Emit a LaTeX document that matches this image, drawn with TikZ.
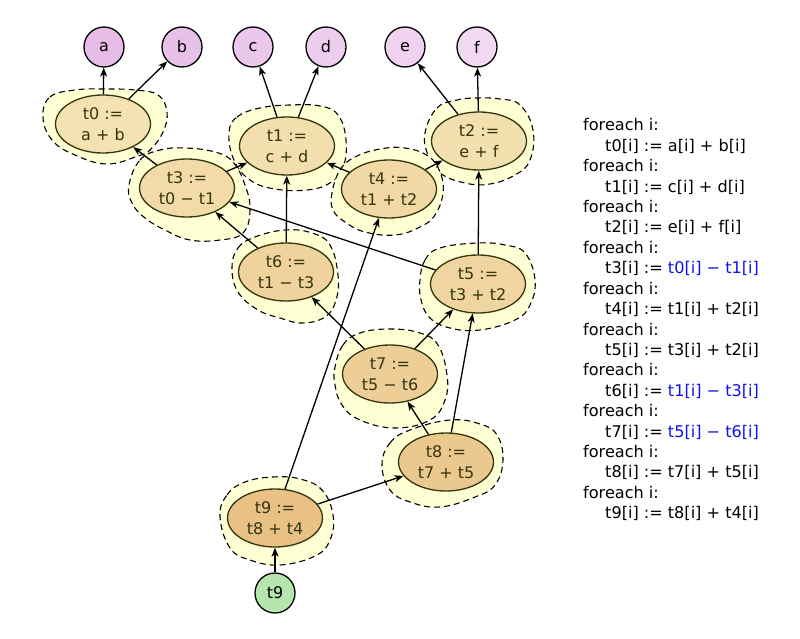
\documentclass[tikz,border=0pt]{standalone}
\usepackage{fontspec}
\setmainfont{DejaVu Sans}
\usetikzlibrary{arrows.meta,shapes.geometric}
\definecolor{tlight}{HTML}{F4E2B2}
\definecolor{tdark}{HTML}{E9C185}
\definecolor{olive}{HTML}{35350F}
\definecolor{blobfill}{HTML}{FFFFD4}
\definecolor{plight}{HTML}{F2D9F2}
\definecolor{pdark}{HTML}{E6BBE6}
\definecolor{gfill}{HTML}{B6E6AE}
\definecolor{codeblue}{HTML}{1010F0}
\tikzset{
  blob/.style={draw=black, fill=blobfill, line width=1.1pt, dash pattern=on 6pt off 4pt},
  tnode/.style={ellipse, draw=olive, line width=1.3pt, minimum width=95pt, minimum height=58pt,
    inner sep=0pt, align=center, text=olive, font=\fontsize{16}{21}\selectfont},
  vnode/.style={circle, draw=black, line width=1.3pt, minimum size=40pt, inner sep=0pt,
    font=\fontsize{16}{18}\selectfont},
  edge/.style={draw=black, line width=1.3pt, -{Stealth[length=9pt,width=7pt,inset=2.5pt,fill=olive]}},
  code/.style={anchor=base west, inner sep=0pt, font=\fontsize{16.1}{18}\selectfont}
}
\begin{document}
\begin{tikzpicture}[x=1pt,y=-1pt]
\useasboundingbox (0,0) rectangle (800,639);
% blobs
\path[blob] plot[smooth cycle, tension=0.7] coordinates {(43,117) (50,97) (75,90) (105,89) (135,90) (158,95) (167,112) (163,132) (150,150) (138,156) (107,164) (75,155) (52,140)};
\path[blob] plot[smooth cycle, tension=0.7] coordinates {(229,133) (237,117) (260,108) (290,105) (320,106) (338,115) (346,140) (343,168) (330,183) (307,190) (275,189) (250,180) (234,160)};
\path[blob] plot[smooth cycle, tension=0.7] coordinates {(425,133) (437,108) (457,100) (477,98) (500,99) (520,105) (533,130) (530,160) (515,175) (490,184) (465,183) (440,173) (428,155)};
\path[blob] plot[smooth cycle, tension=0.7] coordinates {(129,185) (140,160) (160,150) (185,148) (215,152) (233,162) (245,185) (250,210) (243,233) (220,240) (190,240) (165,230) (145,218) (132,203)};
\path[blob] plot[smooth cycle, tension=0.7] coordinates {(332,193) (340,170) (355,157) (380,149) (405,148) (428,156) (440,172) (443,193) (435,215) (420,227) (395,235) (365,232) (345,222) (333,210)};
\path[blob] plot[smooth cycle, tension=0.7] coordinates {(232,268) (238,248) (255,237) (285,230) (312,233) (330,245) (338,275) (336,300) (325,317) (302,323) (280,318) (258,310) (238,292)};
\path[blob] plot[smooth cycle, tension=0.7] coordinates {(420,280) (425,260) (440,248) (477,243) (505,245) (525,253) (535,280) (530,305) (515,320) (480,330) (450,328) (430,318) (421,300)};
\path[blob] plot[smooth cycle, tension=0.7] coordinates {(335,367) (343,345) (360,333) (390,329) (420,333) (438,345) (447,375) (445,400) (430,420) (395,428) (360,420) (342,405) (335,385)};
\path[blob] plot[smooth cycle, tension=0.7] coordinates {(382,465) (390,443) (410,430) (450,420) (480,424) (497,435) (503,460) (495,485) (475,497) (440,507) (410,502) (390,490)};
\path[blob] plot[smooth cycle, tension=0.7] coordinates {(220,517) (227,495) (245,482) (273,477) (300,479) (322,490) (333,515) (330,540) (315,556) (280,565) (250,560) (230,548)};
% input nodes
\node[vnode, fill=pdark] (a) at (104,47) {a};
\node[vnode, fill=pdark!80!plight] (b) at (182,47) {b};
\node[vnode, fill=pdark!60!plight] (c) at (253,47) {c};
\node[vnode, fill=pdark!40!plight] (d) at (326,47) {d};
\node[vnode, fill=pdark!20!plight] (e) at (405,47) {e};
\node[vnode, fill=plight] (f) at (477,47) {f};
\node[vnode, fill=gfill] (t9in) at (275,593) {t9};
% computation nodes
\node[tnode, fill=tlight] (t0) at (103,124) {t0 :=\\a + b};
\node[tnode, fill=tdark!11!tlight] (t1) at (287,146) {t1 :=\\c + d};
\node[tnode, fill=tdark!6!tlight] (t2) at (479,141) {t2 :=\\e + f};
\node[tnode, fill=tdark!22!tlight] (t3) at (187,188) {t3 :=\\t0 − t1};
\node[tnode, fill=tdark!30!tlight] (t4) at (389,189) {t4 :=\\t1 + t2};
\node[tnode, fill=tdark!40!tlight] (t5) at (478,284) {t5 :=\\t3 + t2};
\node[tnode, fill=tdark!48!tlight] (t6) at (286,272) {t6 :=\\t1 − t3};
\node[tnode, fill=tdark!62!tlight] (t7) at (390,374) {t7 :=\\t5 − t6};
\node[tnode, fill=tdark!80!tlight] (t8) at (446,462) {t8 :=\\t7 + t5};
\node[tnode, fill=tdark] (t9) at (275,518) {t9 :=\\t8 + t4};
% edges
\draw[edge] (t0) -- (a);
\draw[edge] (t0) -- (b);
\draw[edge] (t1) -- (c);
\draw[edge] (t1) -- (d);
\draw[edge] (t2) -- (e);
\draw[edge] (t2) -- (f);
\draw[edge] (t3) -- (t0);
\draw[edge] (t3) -- (t1);
\draw[edge] (t4) -- (t1);
\draw[edge] (t4) -- (t2);
\draw[edge] (t5) -- (t3);
\draw[edge] (t5) -- (t2);
\draw[edge] (t6) -- (t1);
\draw[edge] (t6) -- (t3);
\draw[edge] (t7) -- (t5);
\draw[edge] (t7) -- (t6);
\draw[edge] (t8) -- (t7);
\draw[edge] (t8) -- (t5);
\draw[edge] (t9) -- (t8);
\draw[edge] (t9) -- (t4);
\draw[edge] (t9in) -- (t9);
% code listing
\node[code] (f0) at (583,131.0) {foreach i:};
\node[code] (s0) at (605,151.4) {t0[i] := a[i] + b[i]};
\node[code] (f1) at (583,171.8) {foreach i:};
\node[code] (s1) at (605,192.2) {t1[i] := c[i] + d[i]};
\node[code] (f2) at (583,212.6) {foreach i:};
\node[code] (s2) at (605,233.0) {t2[i] := e[i] + f[i]};
\node[code] (f3) at (583,253.4) {foreach i:};
\node[code] (s3) at (605,273.8) {t3[i] := {\color{codeblue}t0[i] − t1[i]}};
\node[code] (f4) at (583,294.2) {foreach i:};
\node[code] (s4) at (605,314.6) {t4[i] := t1[i] + t2[i]};
\node[code] (f5) at (583,335.0) {foreach i:};
\node[code] (s5) at (605,355.4) {t5[i] := t3[i] + t2[i]};
\node[code] (f6) at (583,375.8) {foreach i:};
\node[code] (s6) at (605,396.2) {t6[i] := {\color{codeblue}t1[i] − t3[i]}};
\node[code] (f7) at (583,416.6) {foreach i:};
\node[code] (s7) at (605,437.0) {t7[i] := {\color{codeblue}t5[i] − t6[i]}};
\node[code] (f8) at (583,457.4) {foreach i:};
\node[code] (s8) at (605,477.8) {t8[i] := t7[i] + t5[i]};
\node[code] (f9) at (583,498.2) {foreach i:};
\node[code] (s9) at (605,518.6) {t9[i] := t8[i] + t4[i]};
\end{tikzpicture}
\end{document}
